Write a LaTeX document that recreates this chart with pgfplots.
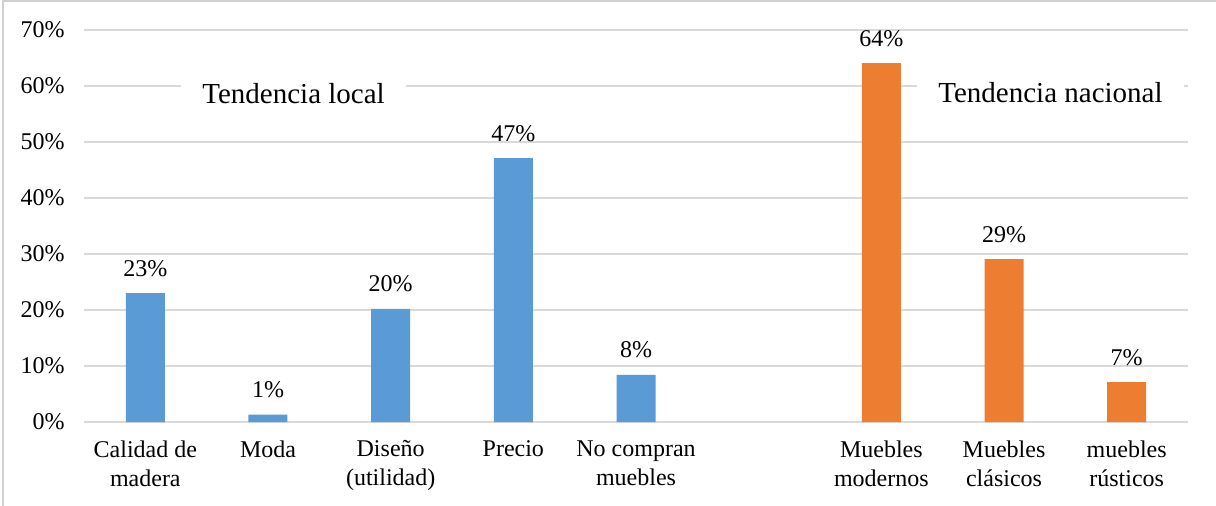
\documentclass[border=0pt]{standalone}
\usepackage{pgfplots}
\pgfplotsset{compat=1.18}
\usepackage{fontspec}
\setmainfont{Liberation Serif}
\definecolor{cblue}{HTML}{5B9BD5}
\definecolor{corange}{HTML}{ED7D31}
\definecolor{cgrid}{HTML}{D9D9D9}
\begin{document}
\begin{tikzpicture}
\begin{axis}[
  at={(0,0)}, anchor=south west,
  scale only axis,
  width=552bp, height=196bp,
  xmin=-0.5, xmax=8.5, ymin=0, ymax=70,
  ybar, bar width=19.5bp, bar shift=0pt,
  axis line style={draw=none},
  major tick length=0pt,
  ymajorgrids, grid style={cgrid, line width=1bp},
  ytick={0,10,20,30,40,50,60,70},
  yticklabel={\pgfmathprintnumber{\tick}\%},
  yticklabel style={anchor=east, inner sep=0pt, xshift=-9.5bp, font=\fontsize{12bp}{14bp}\selectfont},
  /pgf/number format/assume math mode=true,
  xtick={0,1,2,3,4,6,7,8},
  xticklabels={Calidad de\\[1.5bp]madera, Moda, Diseño\\[1.5bp](utilidad), Precio, No compran\\[1.5bp]muebles, Muebles\\[1.5bp]modernos, Muebles\\[1.5bp]clásicos, muebles\\[1.5bp]rústicos},
  xticklabel style={anchor=north, align=center, inner sep=0pt, yshift=-9bp, font=\fontsize{12bp}{13bp}\selectfont},
  nodes near coords={\pgfmathprintnumber[fixed,precision=0]{\pgfplotspointmeta}\%},
  nodes near coords style={anchor=base, inner sep=0pt, yshift=8.5bp, font=\fontsize{12bp}{14bp}\selectfont},
  clip=false,
]
\addplot[fill=cblue, draw=none] coordinates {(0,23) (1,1.3) (2,20.2) (3,47.1) (4,8.4)};
\addplot[fill=corange, draw=none] coordinates {(6,64.1) (7,29.1) (8,7.1)};
\node[anchor=base, fill=white, inner xsep=10.5bp, inner ysep=4bp, font=\fontsize{14.5bp}{17bp}\selectfont] at (axis cs:1.208,56.8) {Tendencia local};
\node[anchor=base, fill=white, inner xsep=10.5bp, inner ysep=4bp, font=\fontsize{14.5bp}{17bp}\selectfont] at (axis cs:7.379,57.14) {Tendencia nacional};
\end{axis}
\pgfresetboundingbox
\path[use as bounding box] (-42bp,-42bp) rectangle (566bp,211bp);
\draw[color=black!18, line width=1bp] (-40.5bp,-42bp) -- (-40.5bp,210.5bp) -- (566bp,210.5bp);
\end{tikzpicture}
\end{document}
